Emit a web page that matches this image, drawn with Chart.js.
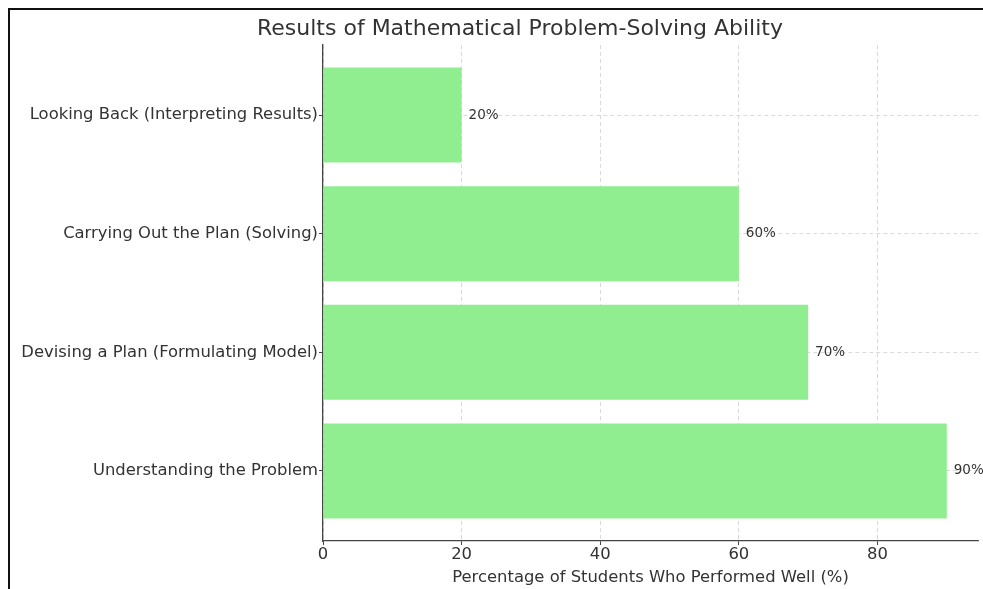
<!DOCTYPE html>
<html>
<head>
<meta charset="utf-8">
<script src="https://cdn.jsdelivr.net/npm/chart.js@4.4.1/dist/chart.umd.min.js"></script>
<style>
  html, body { margin: 0; padding: 0; background: #fff; }
  #wrap { width: 983px; height: 589px; position: relative; }
</style>
</head>
<body>
<div id="wrap"><canvas id="c" width="983" height="589"></canvas></div>
<script>
const categories = [
  "Understanding the Problem",
  "Devising a Plan (Formulating Model)",
  "Carrying Out the Plan (Solving)",
  "Looking Back (Interpreting Results)"
];
const percentages = [90, 70, 60, 20];
const xTicks = [0, 20, 40, 60, 80];
const xMax = 94.5;
const yMin = -0.59, yMax = 3.59;
const titleText = 'Results of Mathematical Problem-Solving Ability';

const FONT = "'DejaVu Sans', sans-serif";
const TEXT = "#333333";

const framePlugin = {
  id: 'frame',
  afterDraw(chart) {
    const ctx = chart.ctx;
    ctx.save();
    ctx.strokeStyle = '#111';
    ctx.lineWidth = 2;
    ctx.beginPath();
    ctx.moveTo(9, 589);
    ctx.lineTo(9, 9);
    ctx.lineTo(983, 9);
    ctx.stroke();
    ctx.fillStyle = TEXT;
    ctx.font = "22px " + FONT;
    ctx.textAlign = 'center';
    ctx.textBaseline = 'middle';
    ctx.fillText(titleText, 520, 29);
    ctx.restore();
  }
};

const valueLabels = {
  id: 'valueLabels',
  afterDatasetsDraw(chart) {
    const ctx = chart.ctx;
    const xs = chart.scales.x, ys = chart.scales.y;
    ctx.save();
    ctx.fillStyle = TEXT;
    ctx.font = "13.5px " + FONT;
    ctx.textAlign = 'left';
    ctx.textBaseline = 'middle';
    percentages.forEach((v, i) => {
      ctx.fillText(v + '%', xs.getPixelForValue(v + 1), ys.getPixelForValue(i));
    });
    ctx.restore();
  }
};

const gridOpts = {
  color: '#d0d0d0',
  lineWidth: 0.8,
  offset: false,
  drawTicks: true,
  tickLength: 4,
  tickColor: '#444',
  tickBorderDash: [],
  tickWidth: 1
};

new Chart(document.getElementById('c'), {
  type: 'bar',
  data: {
    datasets: [{
      data: percentages.map((v, i) => ({ x: v, y: i })),
      backgroundColor: '#90EE90',
      borderWidth: 0,
      categoryPercentage: 1.0,
      barPercentage: 0.8
    }]
  },
  options: {
    indexAxis: 'y',
    responsive: false,
    animation: false,
    devicePixelRatio: 1,
    layout: { padding: { left: 0, right: 5, top: 45, bottom: 0 } },
    plugins: {
      legend: { display: false },
      tooltip: { enabled: false },
      title: { display: false }
    },
    scales: {
      x: {
        type: 'linear',
        min: 0,
        max: xMax,
        offset: false,
        afterBuildTicks: s => { s.ticks = xTicks.map(v => ({ value: v })); },
        afterFit: s => { s.height = 48; },
        ticks: { color: TEXT, font: { family: FONT, size: 16.4 }, padding: 0 },
        grid: gridOpts,
        border: { display: true, color: '#444', width: 1.3, dash: [4, 3] },
        title: {
          display: true,
          text: 'Percentage of Students Who Performed Well (%)',
          color: TEXT,
          font: { family: FONT, size: 16.4 },
          padding: { top: 0, bottom: 1 }
        }
      },
      y: {
        type: 'linear',
        min: yMin,
        max: yMax,
        offset: false,
        afterBuildTicks: s => { s.ticks = categories.map((c, i) => ({ value: i })); },
        afterFit: s => { s.width = 323; },
        ticks: {
          color: TEXT,
          font: { family: FONT, size: 16.4 },
          padding: 1,
          callback: v => categories[v]
        },
        grid: gridOpts,
        border: { display: true, color: '#444', width: 1.3, dash: [4, 3] }
      }
    }
  },
  plugins: [framePlugin, valueLabels]
});
</script>
</body>
</html>
